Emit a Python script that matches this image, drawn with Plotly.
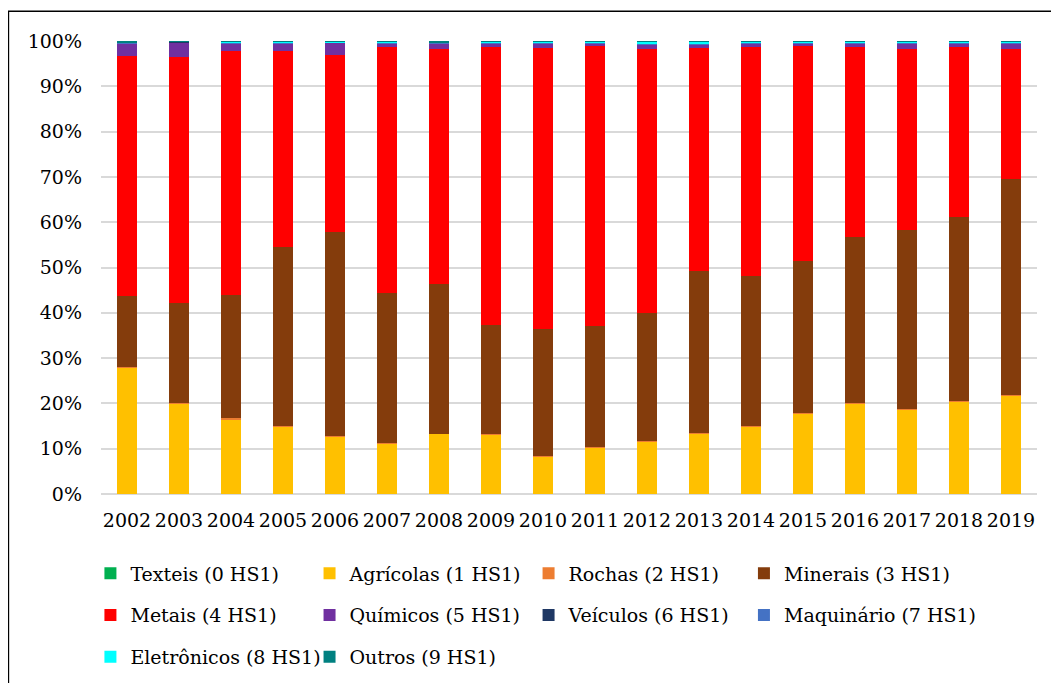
import plotly.graph_objects as go

years = [str(y) for y in range(2002, 2020)]

texteis = [0.05] * 18
agricolas = [27.9, 19.9, 16.2, 14.8, 12.6, 11.0, 13.2, 13.1, 8.3, 10.3, 11.5, 13.3, 14.8, 17.7, 20.0, 18.7, 20.3, 21.7]
rochas = [0.1, 0.1, 0.6, 0.1, 0.1, 0.1, 0.1, 0.1, 0.1, 0.1, 0.1, 0.1, 0.1, 0.1, 0.1, 0.1, 0.1, 0.1]
minerais = [15.8, 22.0, 27.0, 39.6, 45.0, 33.1, 33.0, 24.1, 28.0, 26.8, 28.2, 35.8, 33.2, 33.5, 36.6, 39.3, 40.8, 47.7]
metais = [52.9, 54.3, 53.9, 43.1, 39.0, 54.4, 51.8, 61.2, 61.9, 61.7, 58.3, 49.2, 50.4, 47.4, 41.9, 40.1, 37.5, 28.8]
quimicos = [2.8, 3.3, 1.8, 1.8, 2.8, 0.8, 1.3, 0.9, 1.1, 0.6, 1.0, 0.7, 0.9, 0.7, 0.8, 1.2, 0.7, 1.1]
veiculos = [0.05] * 18
maquinario = [0.15, 0.05, 0.15, 0.15, 0.05, 0.15, 0.15, 0.15, 0.15, 0.15, 0.15, 0.15, 0.15, 0.15, 0.15, 0.15, 0.15, 0.15]
eletronicos = [0.1, 0.05, 0.1, 0.1, 0.05, 0.1, 0.1, 0.1, 0.1, 0.2, 0.4, 0.4, 0.1, 0.1, 0.1, 0.1, 0.2, 0.2]
outros = [0.25, 0.1, 0.2, 0.2, 0.2, 0.2, 0.25, 0.2, 0.2, 0.2, 0.2, 0.2, 0.2, 0.2, 0.2, 0.2, 0.2, 0.2]

# (name, values, colour, legend column)
series = [
    ("Texteis (0 HS1)", texteis, "#00B050", "legend"),
    ("Agrícolas (1 HS1)", agricolas, "#FFC000", "legend2"),
    ("Rochas (2 HS1)", rochas, "#ED7D31", "legend3"),
    ("Minerais (3 HS1)", minerais, "#843C0C", "legend4"),
    ("Metais (4 HS1)", metais, "#FF0000", "legend"),
    ("Químicos (5 HS1)", quimicos, "#7030A0", "legend2"),
    ("Veículos (6 HS1)", veiculos, "#1F3864", "legend3"),
    ("Maquinário (7 HS1)", maquinario, "#4472C4", "legend4"),
    ("Eletrônicos (8 HS1)", eletronicos, "#00FFFF", "legend"),
    ("Outros (9 HS1)", outros, "#008080", "legend2"),
]

FONT = "DejaVu Serif"
TICK_SIZE = 19
LEG_SIZE = 19

fig = go.Figure()
for name, vals, color, lg in series:
    fig.add_trace(go.Bar(x=years, y=vals, name=name, legendgroup=name,
                         marker=dict(color=color, line=dict(width=0)), legend=lg))

LEG_Y = -0.1336


def leg(x):
    return dict(orientation="v", xanchor="left", yanchor="top", x=x, y=LEG_Y,
                font=dict(family=FONT, size=LEG_SIZE, color="black"),
                bgcolor="rgba(0,0,0,0)", traceorder="grouped", tracegroupgap=14)


fig.update_layout(
    width=1051, height=675,
    margin=dict(l=93.3, r=22.3, t=33, b=188.7, autoexpand=False),
    paper_bgcolor="white", plot_bgcolor="white",
    barmode="stack", barnorm="percent", bargap=0.6,
    font=dict(family=FONT, size=TICK_SIZE, color="black"),
    showlegend=True,
    legend=leg(-0.0113),
    legend2=leg(0.2228),
    legend3=leg(0.4568),
    legend4=leg(0.6869),
    xaxis=dict(type="category", showgrid=False, showline=False, ticks="",
               tickfont=dict(family=FONT, size=TICK_SIZE, color="black"), ticklabelstandoff=13,
               tickangle=0),
    yaxis=dict(range=[0, 100], dtick=10, ticksuffix="%", showgrid=True,
               gridcolor="#d9d9d9", gridwidth=1.5, zeroline=True, zerolinecolor="#d9d9d9",
               zerolinewidth=1.5, showline=False, ticks="",
               tickfont=dict(family=FONT, size=TICK_SIZE, color="black"), ticklabelstandoff=18),
    shapes=[dict(type="rect", xref="paper", yref="paper", x0=-0.0989, x1=1.2,
                 y0=-0.7, y1=1.0655, line=dict(color="black", width=1.5),
                 fillcolor="rgba(0,0,0,0)", layer="above")],
)

fig.write_html("out.html")
